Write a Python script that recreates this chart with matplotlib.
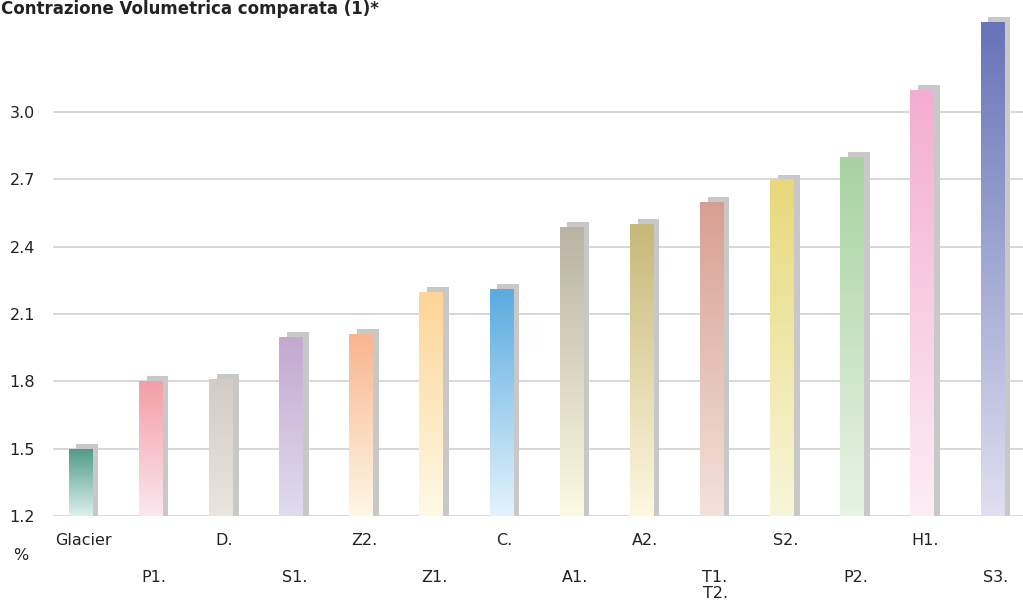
import numpy as np
import matplotlib
matplotlib.use("Agg")
import matplotlib.pyplot as plt
from matplotlib.colors import LinearSegmentedColormap

labels = ["Glacier", "P1.", "D.", "S1.", "Z2.", "Z1.", "C.", "A1.", "A2.",
          "T1.\nT2.", "S2.", "P2.", "H1.", "S3."]
values = [1.50, 1.80, 1.81, 2.00, 2.01, 2.20, 2.21, 2.49, 2.50, 2.60, 2.70, 2.80, 3.10, 3.40]
top_colors = ["#4e9a86", "#f49ea6", "#d3ccc6", "#c3a8d0", "#f9b58e", "#fdd595", "#5aabe0",
              "#b8b3a2", "#c7b879", "#d79f91", "#e8d87a", "#a7d2a0", "#f4acd0", "#6673b8"]
bottom_colors = ["#ddf0ee", "#fbe7ef", "#ebe5df", "#e0dcee", "#fef8e6", "#fef9e8", "#e4f3fb",
                 "#fdfae3", "#fdf9e0", "#f3e2da", "#f8f6da", "#e8f4e4", "#fdeef5", "#e1dff0"]
yticks = [1.2, 1.5, 1.8, 2.1, 2.4, 2.7, 3.0]
base = 1.2

plt.rcParams['font.family'] = ['DejaVu Sans']

fig = plt.figure(figsize=(10.23, 6.03), dpi=100)
ax = fig.add_axes([53/1023, 87/603, 970/1023, 516/603])

x = np.arange(len(values))
vals = np.array(values)
w = 0.33

# grey shadow behind each bar
ax.bar(x + 0.1, vals - base + 0.022, width=0.31, bottom=base, color="#c8c8c8", zorder=2)
bars = ax.bar(x, vals - base, width=w, bottom=base, color="none", zorder=3)

grad = np.linspace(1, 0, 256).reshape(-1, 1)
for i, b in enumerate(bars):
    cmap = LinearSegmentedColormap.from_list("g%d" % i, [bottom_colors[i], top_colors[i]])
    im = ax.imshow(grad, cmap=cmap, aspect="auto", zorder=3,
                   extent=[x[i] - w/2, x[i] + w/2, base, vals[i]])
    im.set_clip_path(b)
ax.set_xlim(-0.39, 13.44)
ax.set_ylim(base, 3.5)

ax.set_yticks(yticks)
ax.set_yticklabels(["%.1f" % t for t in yticks], fontsize=11.5, color="#222222")
ax.tick_params(axis="y", length=0, pad=13)
ax.set_xticks([])
ax.yaxis.grid(True, color="#d4d4d4", linewidth=1.3, zorder=0)
ax.set_axisbelow(True)
for s in ax.spines.values():
    s.set_visible(False)

for i, lab in enumerate(labels):
    two = "\n" in lab
    yy = -0.048 if i % 2 == 0 else (-0.105 if two else -0.12)
    ax.text(x[i] + 0.05, yy, lab, transform=ax.get_xaxis_transform(), ha="center",
            va="top" if two else "center", fontsize=11.5, color="#222222",
            linespacing=1.1)

fig.text(13/1023, 1 - 555/603, "%", fontsize=11.5, color="#222222", va="center")
fig.text(1/1023, 1 - 14/603, "Contrazione Volumetrica comparata (1)*", fontsize=12,
         fontweight="bold", color="#222222", va="baseline")

fig.savefig("out.png", dpi=100)
